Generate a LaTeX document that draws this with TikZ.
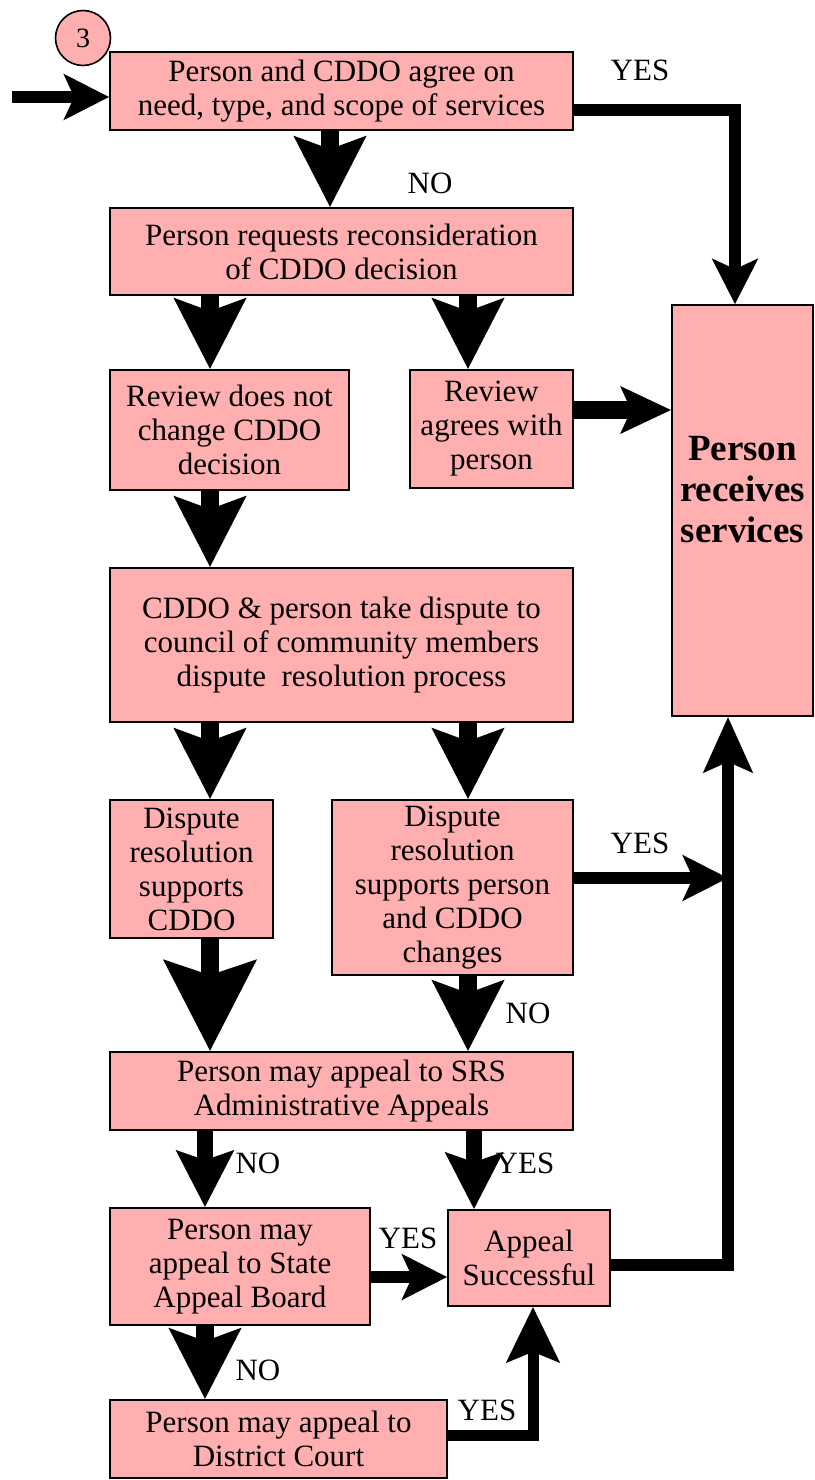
\documentclass[tikz,border=0pt]{standalone}
\usepackage{fontspec}
\setmainfont{Liberation Serif}
\usetikzlibrary{arrows.meta}
\definecolor{boxpink}{RGB}{255,175,175}
\tikzset{
  box/.style={draw=black, fill=boxpink, line width=1.6pt, inner sep=0pt, align=center,
    font=\fontsize{31}{34}\selectfont},
  lbl/.style={font=\fontsize{31}{34}\selectfont, inner sep=0pt},
  bigdown/.style={line width=18pt, -{Stealth[length=70pt,width=70pt,inset=12pt]}},
  hugedown/.style={line width=18pt, -{Stealth[length=90pt,width=90pt,inset=14pt]}},
  middown/.style={line width=16pt, -{Stealth[length=56pt,width=56pt,inset=9pt]}},
  harrow/.style={line width=12pt, -{Stealth[length=45pt,width=45pt,inset=10pt]}},
  fatharrow/.style={line width=18pt, -{Stealth[length=50pt,width=46pt,inset=10pt]}},
  plainline/.style={line width=12pt}
}
\begin{document}
\begin{tikzpicture}[x=1pt,y=-1pt]
\useasboundingbox (0,0) rectangle (814,1480);
% boxes
\node[box, minimum width=463pt, minimum height=78pt] (A) at (341.5,91) {Person and CDDO agree on\\need, type, and scope of services};
\node[box, minimum width=463pt, minimum height=87pt] (B) at (341.5,251.5) {Person requests reconsideration\\of CDDO decision};
\node[box, minimum width=239pt, minimum height=120pt] (C) at (229.5,430) {Review does not\\change CDDO\\decision};
\node[box, minimum width=163pt, minimum height=118pt] (D) at (491.5,429) {Review\\agrees with\\person};
\node[box, minimum width=141pt, minimum height=411pt] (R) at (742.5,510.5) {};
\node[align=center, inner sep=0pt, font=\bfseries\fontsize{37}{41}\selectfont] (Rt) at (742.5,490) {Person\\receives\\services};
\node[box, minimum width=463pt, minimum height=154pt] (E) at (341.5,645) {CDDO \& person take dispute to\\council of community members\\dispute\ \ resolution process};
\node[box, minimum width=163pt, minimum height=138pt] (F) at (191.5,869) {Dispute\\resolution\\supports\\CDDO};
\node[box, minimum width=241pt, minimum height=175pt] (G) at (452.5,887.5) {Dispute\\resolution\\supports person\\and CDDO\\changes};
\node[box, minimum width=463pt, minimum height=78pt] (H) at (341.5,1091) {Person may appeal to SRS\\Administrative Appeals};
\node[box, minimum width=260pt, minimum height=117pt] (I) at (240,1266.5) {Person may\\appeal to State\\Appeal Board};
\node[box, minimum width=162pt, minimum height=96pt] (J) at (529,1258) {Appeal\\Successful};
\node[box, minimum width=337pt, minimum height=78pt] (K) at (278.5,1439) {Person may appeal to\\District Court};
\node[circle, draw=black, fill=boxpink, line width=1.6pt, minimum size=55pt, inner sep=0pt,
  font=\fontsize{28}{30}\selectfont] (n3) at (83,38) {3};
% labels
\node[lbl] (l1) at (640,70) {YES};
\node[lbl] (l2) at (430,183) {NO};
\node[lbl] (l3) at (640,843) {YES};
\node[lbl] (l4) at (528,1013) {NO};
\node[lbl] (l5) at (258,1163) {NO};
\node[lbl] (l6) at (525,1163) {YES};
\node[lbl] (l7) at (408,1238) {YES};
\node[lbl] (l8) at (258,1370) {NO};
\node[lbl] (l9) at (487,1410) {YES};
% helper coordinates
\coordinate (start) at (12,97);
\coordinate (cAB) at (330,0);
\coordinate (cL) at (210,0);
\coordinate (cR) at (468,0);
\coordinate (cTop) at (735,0);
\coordinate (cV) at (728,0);
\coordinate (cHI) at (205,0);
\coordinate (cHJ) at (474,0);
\coordinate (cKJ) at (533,0);
\coordinate (yA) at (0,110);
\coordinate (yD) at (0,410);
\coordinate (yG) at (0,878);
\coordinate (yJ) at (0,1265);
\coordinate (yI) at (0,1277);
\coordinate (yK) at (0,1435);
% connectors
\draw[harrow] (start) -- (A.west |- start);
\draw[harrow] (A.east |- yA) -- (cTop |- yA) -- (R.north -| cTop);
\draw[bigdown] (A.south -| cAB) -- (B.north -| cAB);
\draw[bigdown] (B.south -| cL) -- (C.north -| cL);
\draw[bigdown] (B.south -| cR) -- (D.north -| cR);
\draw[fatharrow] (D.east |- yD) -- (R.west |- yD);
\draw[bigdown] (C.south -| cL) -- (E.north -| cL);
\draw[bigdown] (E.south -| cL) -- (F.north -| cL);
\draw[bigdown] (E.south -| cR) -- (G.north -| cR);
\draw[harrow] (G.east |- yG) -- (cV |- yG);
\draw[line width=12pt, -{Stealth[length=55pt,width=48pt,inset=10pt]}] (J.east |- yJ) -- (cV |- yJ) -- (R.south -| cV);
\draw[hugedown] (F.south -| cL) -- (H.north -| cL);
\draw[bigdown] (G.south -| cR) -- (H.north -| cR);
\draw[middown] (H.south -| cHI) -- (I.north -| cHI);
\draw[middown] (H.south -| cHJ) -- (J.north -| cHJ);
\draw[harrow] (I.east |- yI) -- (J.west |- yI);
\draw[bigdown] (I.south -| cHI) -- (K.north -| cHI);
\draw[line width=11pt, -{Stealth[length=55pt,width=52pt,inset=10pt]}] (K.east |- yK) -- (cKJ |- yK) -- (J.south -| cKJ);
\end{tikzpicture}
\end{document}
